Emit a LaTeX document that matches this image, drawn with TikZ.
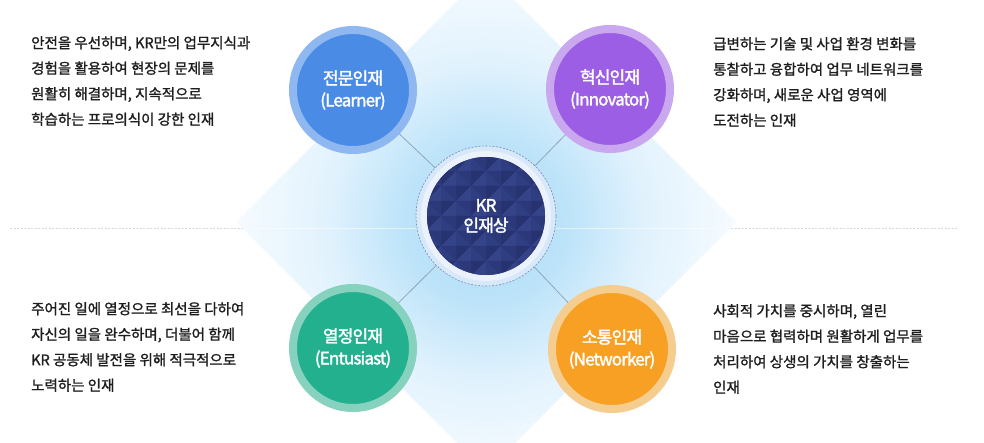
\documentclass[tikz,border=0pt]{standalone}
\usepackage{fontspec}
\setmainfont{Noto Sans CJK KR}[FakeBold=1.3]
\newfontfamily\labelfont{Noto Sans CJK KR}[LetterSpace=-5, FakeBold=2]
\definecolor{dA}{RGB}{172,218,247}
\definecolor{dB}{RGB}{188,227,249}
\definecolor{dC}{RGB}{225,242,253}
\definecolor{dD}{RGB}{246,251,255}
\definecolor{txt}{RGB}{30,30,30}
\definecolor{learnerIn}{RGB}{74,139,230}
\definecolor{learnerRing}{RGB}{143,183,240}
\definecolor{innovIn}{RGB}{156,94,228}
\definecolor{innovRing}{RGB}{201,168,240}
\definecolor{entIn}{RGB}{35,176,142}
\definecolor{entRing}{RGB}{134,210,191}
\definecolor{netIn}{RGB}{247,160,36}
\definecolor{netRing}{RGB}{244,205,143}
\definecolor{navy}{RGB}{45,58,124}
\definecolor{facetTL}{RGB}{53,68,137}
\definecolor{facetTR}{RGB}{47,61,129}
\definecolor{facetBL}{RGB}{43,56,121}
\definecolor{facetBR}{RGB}{39,51,113}
\definecolor{haloOut}{RGB}{214,232,250}
\definecolor{haloIn}{RGB}{236,242,252}
\definecolor{ringDash}{RGB}{120,140,172}
\definecolor{connCol}{RGB}{142,166,194}
\definecolor{hline}{RGB}{210,218,228}
\pgfdeclareradialshading{diamshade}{\pgfpoint{0bp}{0bp}}{color(0bp)=(dA); color(8bp)=(dB); color(16bp)=(dC); color(25bp)=(dD); color(50bp)=(dD)}
\begin{document}
\begin{tikzpicture}[x=1pt,y=-1pt,
  desc/.style={anchor=north west, inner sep=0pt, align=left, text=txt,
    font=\fontsize{14.5}{25.5}\selectfont},
  person/.style={circle, minimum size=120pt, inner sep=0pt, line width=8pt,
    text=white, align=center, font=\labelfont\fontsize{17}{22}\selectfont},
  conn/.style={draw=connCol, line width=0.8pt}]
\useasboundingbox (0,0) rectangle (984,443);
\clip (0,0) rectangle (984,443);
% horizontal dashed line
\draw[hline, line width=0.7pt, dash pattern=on 2pt off 1.5pt] (10,228) -- (958,228);
% diamond background
\shade[shading=diamshade] (486,-28) -- (736,222) -- (486,472) -- (236,222) -- cycle;
\draw[white, opacity=0.55, line width=0.8pt] (250,228) -- (722,228);
% center decoration
\fill[haloOut] (486,216) circle (70);
\fill[haloIn] (486,216) circle (65);
\fill[navy] (486,216) circle (59);
\begin{scope}
  \clip (486,216) circle (59);
  \foreach \i in {-3,...,3}{
    \foreach \j in {-3,...,3}{
      \foreach \ox/\oy in {0/0,15/15}{
        \coordinate (c) at (486+30*\i+\ox, 216+30*\j+\oy);
        \fill[facetTL] (c) -- ++(-15,0) -- ++(15,-15) -- cycle;
        \fill[facetTR] (c) -- ++(0,-15) -- ++(15,15) -- cycle;
        \fill[facetBR] (c) -- ++(15,0) -- ++(-15,15) -- cycle;
        \fill[facetBL] (c) -- ++(0,15) -- ++(-15,-15) -- cycle;
      }
    }
  }
\end{scope}
\node[circle, minimum size=140pt, inner sep=0pt, draw=ringDash, line width=0.6pt,
  dash pattern=on 2pt off 1.5pt, text=white, align=center,
  font=\labelfont\fontsize{17}{20}\selectfont] (kr) at (486,216) {KR\\인재상};
% four circles
\node[person, fill=learnerIn, draw=learnerRing] (learner) at (353,90) {전문인재\\(Learner)};
\node[person, fill=innovIn, draw=innovRing] (innov) at (610,89) {혁신인재\\(Innovator)};
\node[person, fill=entIn, draw=entRing] (ent) at (353,348) {열정인재\\(Entusiast)};
\node[person, fill=netIn, draw=netRing] (net) at (612,349) {소통인재\\(Networker)};
% connectors
\draw[conn] (kr) -- (learner);
\draw[conn] (kr) -- (innov);
\draw[conn] (kr) -- (ent);
\draw[conn] (kr) -- (net);
% descriptions
\node[desc] (dlt) at (31,36) {안전을 우선하며, KR만의 업무지식과\\경험을 활용하여 현장의 문제를\\원활히 해결하며, 지속적으로\\학습하는 프로의식이 강한 인재};
\node[desc] (drt) at (713,37) {급변하는 기술 및 사업 환경 변화를\\통찰하고 융합하여 업무 네트워크를\\강화하며, 새로운 사업 영역에\\도전하는 인재};
\node[desc] (dlb) at (31,302) {주어진 일에 열정으로 최선을 다하여\\자신의 일을 완수하며, 더불어 함께\\KR 공동체 발전을 위해 적극적으로\\노력하는 인재};
\node[desc] (drb) at (713,304) {사회적 가치를 중시하며, 열린\\마음으로 협력하며 원활하게 업무를\\처리하여 상생의 가치를 창출하는\\인재};
\end{tikzpicture}
\end{document}
